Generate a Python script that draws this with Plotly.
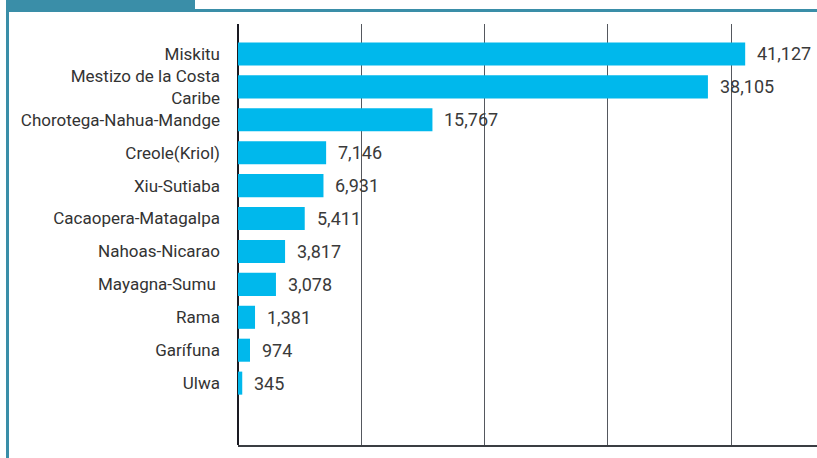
import plotly.graph_objects as go

categories = ["Miskitu", "Mestizo de la Costa<br>Caribe", "Chorotega-Nahua-Mandge",
              "Creole(Kriol)", "Xiu-Sutiaba", "Cacaopera-Matagalpa", "Nahoas-Nicarao",
              "Mayagna-Sumu\u00a0", "Rama", "Garífuna", "Ulwa"]
values = [41127, 38105, 15767, 7146, 6931, 5411, 3817, 3078, 1381, 974, 345]
value_labels = ["41,127", "38,105", "15,767", "7,146", "6,931", "5,411", "3,817",
                "3,078", "1,381", "974", "345"]

W, H = 817, 458
L, R, T, B = 238, 0, 24, 13
pw, ph = W - L - R, H - T - B

def px(x):
    return (x - L) / pw

def py(y):
    return (H - B - y) / ph

fig = go.Figure(go.Bar(
    x=values, y=categories, orientation="h",
    marker=dict(color="#00b8ec", line=dict(width=0)),
    width=0.7, hoverinfo="skip",
))

for c, v, t in zip(categories, values, value_labels):
    fig.add_annotation(x=v, y=c, text=t, xref="x", yref="y", showarrow=False,
                       xanchor="left", xshift=10,
                       font=dict(family="Roboto", size=18, color="#3a3a3a"))

teal = "#3a8ea8"
shapes = [
    dict(type="rect", xref="paper", yref="paper", x0=px(6), x1=px(195), y0=py(10), y1=py(0),
         fillcolor=teal, line=dict(width=0), layer="above"),
    dict(type="rect", xref="paper", yref="paper", x0=px(6), x1=px(817), y0=py(12), y1=py(9),
         fillcolor=teal, line=dict(width=0), layer="above"),
    dict(type="rect", xref="paper", yref="paper", x0=px(6), x1=px(9), y0=py(458), y1=py(10),
         fillcolor=teal, line=dict(width=0), layer="above"),
]

fig.update_layout(
    width=W, height=H,
    margin=dict(l=L, r=R, t=T, b=B),
    paper_bgcolor="white", plot_bgcolor="white",
    showlegend=False,
    shapes=shapes,
    xaxis=dict(range=[0, 46950], dtick=10000, showticklabels=False, ticks="",
               showgrid=True, gridcolor="#55585e", gridwidth=1,
               zeroline=True, zerolinecolor="#1a1a22", zerolinewidth=1.5,
               showline=True, linecolor="#3a3d42", linewidth=2, mirror=False),
    yaxis=dict(type="category", range=[11.88, -0.91], showgrid=False, zeroline=False,
               showline=False, ticks="", ticklabelstandoff=17,
               tickfont=dict(family="Roboto", size=17, color="#333333")),
)

fig.write_html("out.html", config={"displayModeBar": False},
               post_script="document.body.style.margin='0';document.body.style.overflow='hidden';")
